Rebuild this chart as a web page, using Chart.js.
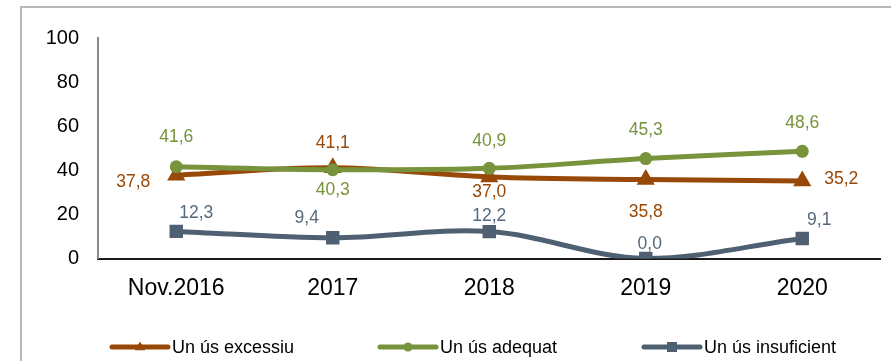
<!DOCTYPE html>
<html>
<head>
<meta charset="utf-8">
<script src="https://cdn.jsdelivr.net/npm/chart.js@4/dist/chart.umd.min.js"></script>
<style>
  html, body { margin: 0; padding: 0; background: #ffffff; overflow: hidden; }
  #frame { position: absolute; left: 20px; top: 6px; width: 900px; height: 400px;
           border-left: 2px solid #b8b8b8; border-top: 2px solid #b8b8b8; }
  #wrap { position: absolute; left: 0; top: 0; width: 891px; height: 361px; }
</style>
</head>
<body>
<div id="frame"></div>
<div id="wrap"><canvas id="c" width="891" height="361"></canvas></div>
<script>
// Categories and yearly shares (%)
const categories = ['Nov.2016', '2017', '2018', '2019', '2020'];
const excessiu    = [37.8, 41.1, 37.0, 35.8, 35.2];
const adequat     = [41.6, 40.3, 40.9, 45.3, 48.6];
const insuficient = [12.3, 9.4, 12.2, 0.0, 9.1];
const seriesNames = ['Un ús excessiu', 'Un ús adequat', 'Un ús insuficient'];
const yTicks = [0, 20, 40, 60, 80, 100];

// Label placement for each point: [dx, dy] from the marker centre
const labelOffsets = [
  [[-43, 7], [0, -25], [0, 15], [0, 33], [39, -2]],
  [[0, -30], [0, 21], [0, -27], [0, -28], [0, -28]],
  [[20, -18], [-26, -20], [0, -15], [4, -14], [17, -18]]
];

const colors = {
  excessiu: '#984807',
  adequat: '#77933C',
  insuficient: '#4F6073'
};
const labelColors = ['#984807', '#77933C', '#56687C'];

const fmt = v => v.toFixed(1).replace('.', ',');

const valueLabels = {
  id: 'valueLabels',
  afterDatasetsDraw(chart) {
    const ctx = chart.ctx;
    ctx.save();
    ctx.font = '17.5px "Liberation Sans", Arial, sans-serif';
    ctx.textAlign = 'center';
    ctx.textBaseline = 'middle';
    chart.data.datasets.forEach((ds, i) => {
      const meta = chart.getDatasetMeta(i);
      ctx.fillStyle = labelColors[i];
      meta.data.forEach((pt, j) => {
        const off = labelOffsets[i][j];
        ctx.fillText(fmt(ds.data[j]), pt.x + off[0], pt.y + off[1]);
      });
    });
    ctx.restore();
  }
};

function drawMarker(ctx, style, x, y, r, color) {
  ctx.fillStyle = color;
  ctx.beginPath();
  if (style === 'circle') {
    ctx.arc(x, y, r, 0, Math.PI * 2);
  } else if (style === 'rect') {
    ctx.rect(x - r, y - r, 2 * r, 2 * r);
  } else {
    ctx.moveTo(x, y - r);
    ctx.lineTo(x + r * 0.95, y + r * 0.6);
    ctx.lineTo(x - r * 0.95, y + r * 0.6);
    ctx.closePath();
  }
  ctx.fill();
}

const bottomLegend = {
  id: 'bottomLegend',
  afterDraw(chart) {
    const ctx = chart.ctx;
    const y = 347;
    const starts = [112, 380, 644];
    const markerSize = [5.5, 4.5, 5];
    ctx.save();
    chart.data.datasets.forEach((ds, i) => {
      const x0 = starts[i], x1 = x0 + 56;
      ctx.strokeStyle = ds.borderColor;
      ctx.lineWidth = 5;
      ctx.lineCap = 'round';
      ctx.beginPath();
      ctx.moveTo(x0, y);
      ctx.lineTo(x1, y);
      ctx.stroke();
      drawMarker(ctx, ds.pointStyle, (x0 + x1) / 2, y, markerSize[i], ds.borderColor);
      ctx.fillStyle = '#000000';
      ctx.font = '18px "Liberation Sans", Arial, sans-serif';
      ctx.textAlign = 'left';
      ctx.textBaseline = 'middle';
      ctx.fillText(ds.label, x1 + 4, y + 1);
    });
    ctx.restore();
  }
};

new Chart(document.getElementById('c'), {
  type: 'line',
  data: {
    labels: categories,
    datasets: [
      { label: seriesNames[0], data: excessiu, borderColor: colors.excessiu, backgroundColor: colors.excessiu,
        pointBackgroundColor: colors.excessiu, pointBorderWidth: 0,
        pointStyle: 'triangle', pointRadius: 10.5, borderWidth: 5, order: 2 },
      { label: seriesNames[1], data: adequat, borderColor: colors.adequat, backgroundColor: colors.adequat,
        pointBackgroundColor: colors.adequat, pointBorderWidth: 0,
        pointStyle: 'circle', pointRadius: 6.5, borderWidth: 5, order: 1 },
      { label: seriesNames[2], data: insuficient, borderColor: colors.insuficient, backgroundColor: colors.insuficient,
        pointBackgroundColor: colors.insuficient, pointBorderWidth: 0,
        pointStyle: 'rect', pointRadius: 9.5, borderWidth: 5, order: 0 }
    ]
  },
  options: {
    responsive: false,
    animation: false,
    devicePixelRatio: 1,
    layout: { padding: { left: 0, right: 9, top: 38, bottom: 52.5 } },
    elements: {
      line: { tension: 0.35, fill: false, capBezierPoints: true },
      point: { borderWidth: 0, hoverRadius: 9 }
    },
    plugins: {
      legend: { display: false },
      tooltip: { enabled: false }
    },
    scales: {
      x: {
        offset: true,
        grid: { display: false, drawTicks: false },
        border: { display: true, color: '#1a1a1a', width: 2 },
        ticks: { color: '#000000', padding: 16, maxRotation: 0,
                 font: { family: '"Liberation Sans", Arial, sans-serif', size: 23 } },
        afterFit(scale) { scale.height = 50; }
      },
      y: {
        min: 0, max: 100,
        afterBuildTicks(scale) { scale.ticks = yTicks.map(v => ({ value: v })); },
        grid: { display: false, drawTicks: false },
        border: { display: true, color: '#8a8a8a', width: 2 },
        ticks: { color: '#000000', padding: 19,
                 font: { family: '"Liberation Sans", Arial, sans-serif', size: 20 } },
        afterFit(scale) { scale.width = 98; }
      }
    }
  },
  plugins: [valueLabels, bottomLegend]
});
</script>
</body>
</html>
